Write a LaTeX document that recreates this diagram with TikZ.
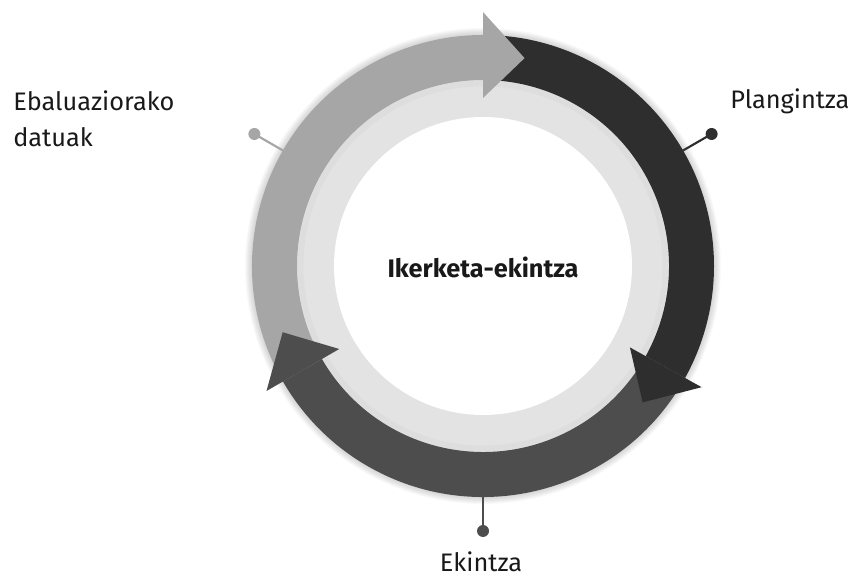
\documentclass[tikz,border=0pt]{standalone}
\usepackage{fontspec}
\setmainfont{Fira Sans}
\definecolor{arcA}{HTML}{A6A6A6}
\definecolor{arcB}{HTML}{2E2E2E}
\definecolor{arcC}{HTML}{4D4D4D}
\definecolor{ringbg}{HTML}{E3E3E3}
\tikzset{
  lbl/.style={inner sep=0pt, font=\fontsize{19}{27}\selectfont, text=black!90},
  pindot/.style={circle, inner sep=0pt, minimum size=9pt},
  pinline/.style={line width=1.6pt},
}
\begin{document}
\begin{tikzpicture}[x=0.75pt,y=0.75pt]
\useasboundingbox (0,0) rectangle (853,577);
\begin{scope}[shift={(483,311)}]
  % soft shadow
  \foreach \k in {1,...,7} {\fill[black, opacity=0.025] (0,0) circle ({231+\k});}
  \fill[ringbg] (0,0) circle (186);
  \foreach \k in {1,...,6} {\draw[black, opacity=0.02, line width=0.75pt] (0,0) circle ({186-\k});}
  \fill[white] (0,0) circle (149);
  % arc bodies
  \fill[arcA] (210:231) arc[start angle=210, end angle=90, radius=231] -- (90:186) arc[start angle=90, end angle=210, radius=186] -- cycle;
  \fill[arcB] (90:231) arc[start angle=90, end angle=-29, radius=231] -- (-29:186) arc[start angle=-29, end angle=90, radius=186] -- cycle;
  \fill[arcC] (-29:231) arc[start angle=-29, end angle=-150, radius=231] -- (-150:186) arc[start angle=-150, end angle=-29, radius=186] -- cycle;
  % heads
  \fill[arcA] (90:168) -- (90:254) -- (78.7:212) -- cycle;
  \fill[arcB] (-29:168) -- (-29:250) -- (-40.5:210) -- cycle;
  \fill[arcC] (-150:166) -- (-150:250) -- (-161.7:211) -- cycle;
  % pin anchors
  \coordinate (pA) at (150:231);
  \coordinate (pB) at (30:231);
  \coordinate (pC) at (270:231);
  \node[pindot, fill=arcA] (dA) at (150:264) {};
  \node[pindot, fill=arcB] (dB) at (30:264) {};
  \node[pindot, fill=arcC] (dC) at (270:265) {};
\end{scope}
\draw[pinline, arcA] (pA) -- (dA.center);
\draw[pinline, arcB] (pB) -- (dB.center);
\draw[pinline, arcC] (pC) -- (dC.center);
\node[lbl, anchor=base west, align=left] (eval) at (13,430) {Ebaluaziorako\\datuak};
\node[lbl, anchor=base west] (plan) at (730,468) {Plangintza};
\node[lbl, anchor=base] (ekin) at (481,5) {Ekintza};
\node[lbl, anchor=base, font=\fontsize{19}{23}\selectfont\bfseries] (main) at (483,299) {Ikerketa-ekintza};
\end{tikzpicture}
\end{document}
